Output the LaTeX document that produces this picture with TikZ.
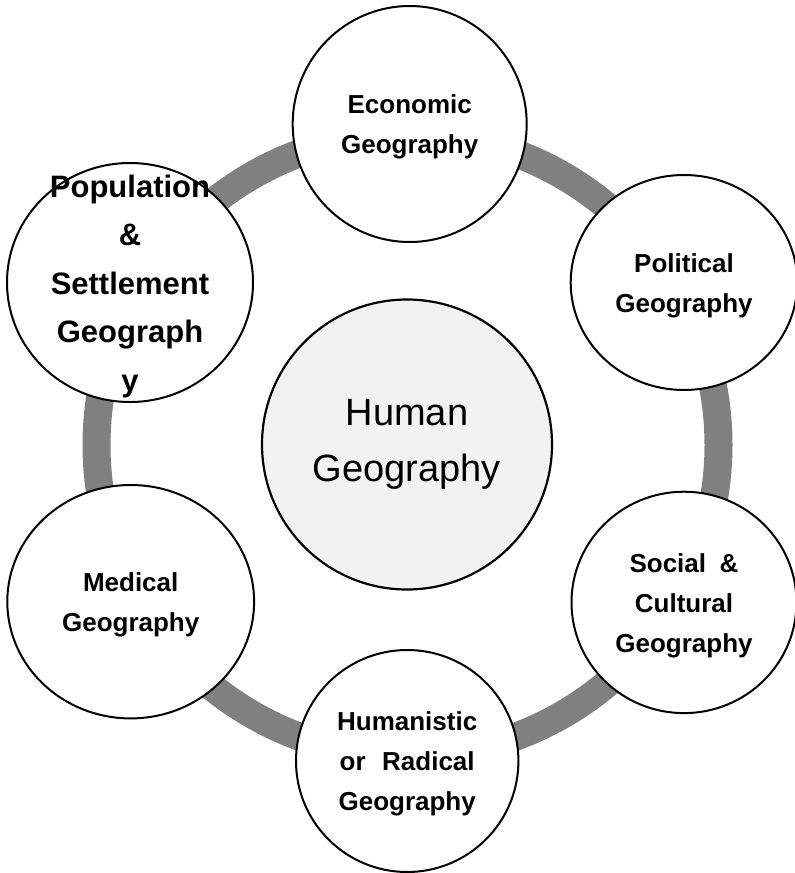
\documentclass[tikz,border=0pt]{standalone}
\usepackage{fontspec}
\setmainfont{Liberation Sans}
\usetikzlibrary{shapes.geometric}
\definecolor{ringgray}{HTML}{808080}
\definecolor{hubfill}{HTML}{F2F2F2}
\begin{document}
\begin{tikzpicture}[x=1pt,y=-1pt,
  bubble/.style={ellipse, draw=black, line width=2pt, fill=white, inner sep=0pt},
  topic/.style={align=center, inner sep=0pt, font=\bfseries\fontsize{26}{40}\selectfont},
  bigtopic/.style={align=center, inner sep=0pt, font=\bfseries\fontsize{31}{48.5}\selectfont},
  hub/.style={circle, draw=black, line width=2.2pt, fill=hubfill, inner sep=0pt,
    minimum size=290pt, align=center, font=\fontsize{38}{56}\selectfont}]
\useasboundingbox (0,0) rectangle (795,873);

% gray ring linking the branches
\coordinate (ringc) at (407.5,445);
\draw[ringgray, line width=28pt] (ringc) circle[radius=311pt];

% branch bubbles
\node[bubble, minimum width=234pt, minimum height=236pt] (econ) at (409.7,124) {};
\node[bubble, minimum width=226.6pt, minimum height=215pt] (pol) at (684,282.5) {};
\node[bubble, minimum width=225pt, minimum height=221.4pt] (soc) at (684,602.4) {};
\node[bubble, minimum width=222.4pt, minimum height=222pt] (hum) at (407.2,761) {};
\node[bubble, minimum width=246.8pt, minimum height=233.4pt] (med) at (130.7,601.7) {};
\node[bubble, minimum width=246pt, minimum height=239pt] (pop) at (130,282.5) {};

% branch labels
\node[topic] (econ-t) at ([yshift=-3pt]econ.center) {Economic\\Geography};
\node[topic] (pol-t) at ([yshift=-3pt]pol.center) {Political\\Geography};
\node[topic] (soc-t) at ([yshift=-3pt]soc.center) {Social\hspace{13.6pt}\&\\Cultural\\Geography};
\node[topic] (hum-t) at ([yshift=-3pt]hum.center) {Humanistic\\or\hspace{16.5pt}Radical\\Geography};
\node[topic] (med-t) at ([yshift=-3pt]med.center) {Medical\\Geography};
\node[bigtopic] (pop-t) at ([yshift=-3.5pt]pop.center) {Population\\\&\\Settlement\\Geograph\\y};

% central topic
\node[hub] (hub) at (407,444.5) {Human\\Geography};
\end{tikzpicture}
\end{document}
